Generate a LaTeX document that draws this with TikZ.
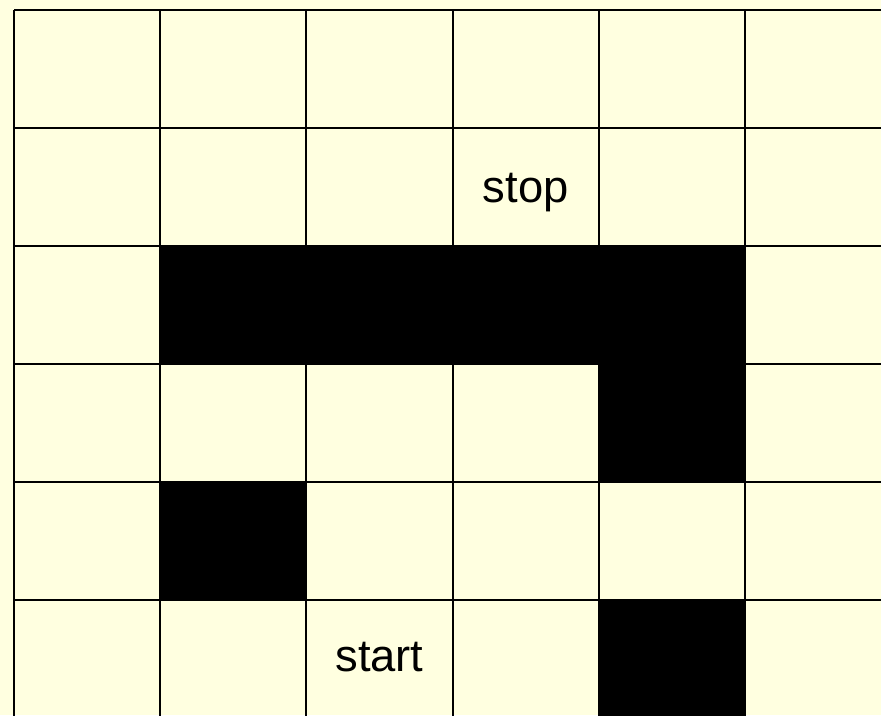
\documentclass[tikz,border=0pt]{standalone}
\usepackage{fontspec}
\setmainfont{Liberation Sans}
\definecolor{mazebg}{HTML}{FFFFE0}
\begin{document}
\begin{tikzpicture}[
  x=0.75pt,y=-0.75pt,
  wall/.style={fill=black},
  mazeline/.style={draw=black,line width=1.5pt},
  lbl/.style={font=\fontsize{34}{40}\selectfont,inner sep=0pt,anchor=base}
]
\useasboundingbox (0,0) rectangle (881,715);
\fill[mazebg] (0,0) rectangle (881,715);
\clip (0,0) rectangle (881,715);

\begin{scope}[shift={(14,10)},x=109.65pt,y=-88.5pt]
  % blocked cells
  \foreach \c/\r in {1/2,2/2,3/2,4/2,4/3,1/4,4/5}
    \fill[wall] (\c,\r) rectangle ++(1,1);
  \draw[mazeline,xstep=109.65pt,ystep=88.5pt] (0,0) grid (6,6);
  \node[lbl] (stop) at (3.5,1.63) {stop};
  \node[lbl] (start) at (2.5,5.61) {start};
\end{scope}
\end{tikzpicture}
\end{document}
